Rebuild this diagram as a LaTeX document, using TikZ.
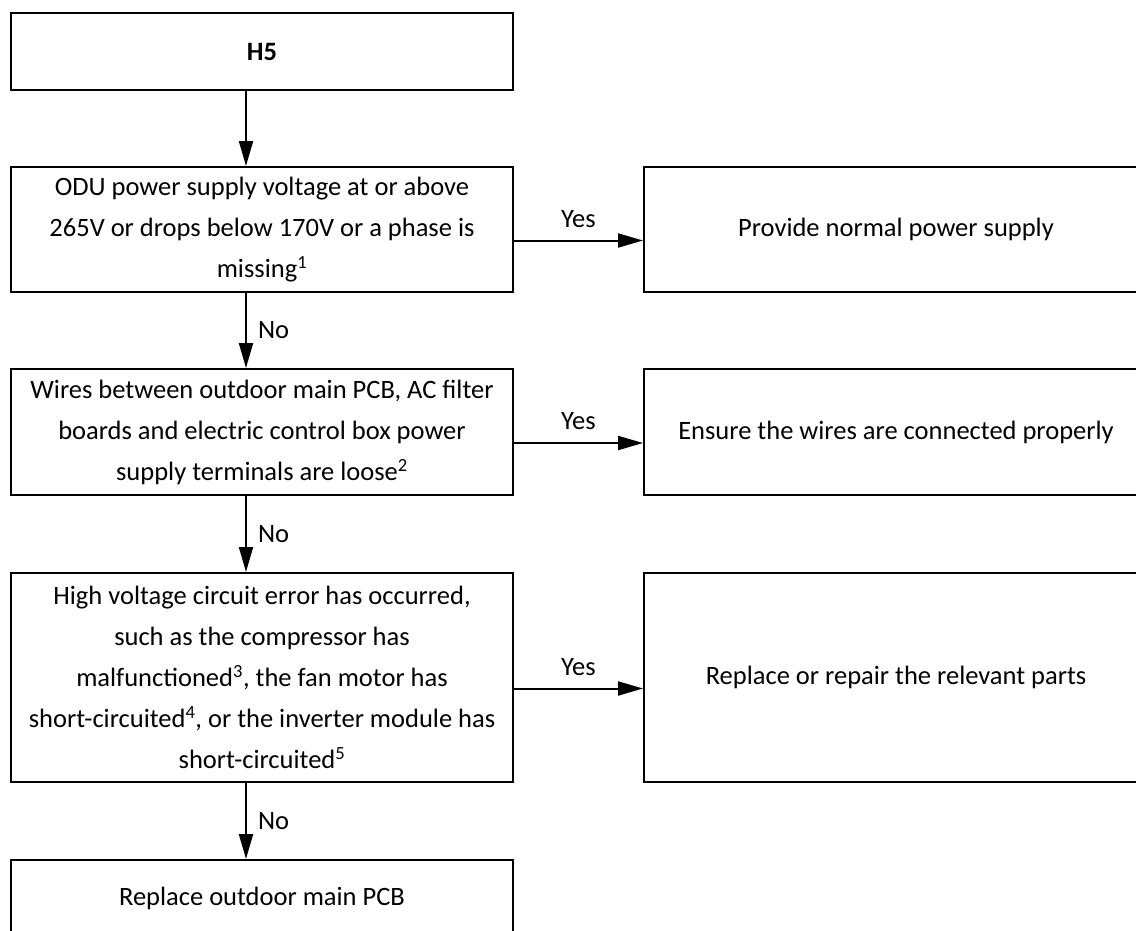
\documentclass[tikz,border=0pt]{standalone}
\usepackage{fontspec}
\setmainfont{Carlito}
\usetikzlibrary{arrows.meta}
\begin{document}
\begin{tikzpicture}[x=1pt,y=-1pt,
  box/.style={draw, line width=2pt, inner sep=0pt, align=center, anchor=north west,
              font=\fontsize{26.5}{41}\selectfont},
  arr/.style={line width=2pt, -{Triangle[length=25pt,width=14pt]}},
  lbl/.style={font=\fontsize{26.5}{30}\selectfont, inner sep=0pt}]
\useasboundingbox (0,0) rectangle (1136,930);
% left column
\node[box, minimum width=502pt, minimum height=77pt] (h5) at (10,12) {\textbf{H5}};
\node[box, minimum width=502pt, minimum height=125pt] (q1) at (10,166)
  {ODU power supply voltage at or above\\265V or drops below 170V or a phase is\\missing\textsuperscript{1}};
\node[box, minimum width=502pt, minimum height=126pt] (q2) at (10,368)
  {Wires between outdoor main PCB, AC filter\\boards and electric control box power\\supply terminals are loose\textsuperscript{2}};
\node[box, minimum width=502pt, minimum height=209pt] (q3) at (10,572)
  {High voltage circuit error has occurred,\\such as the compressor has\\malfunctioned\textsuperscript{3}, the fan motor has\\short-circuited\textsuperscript{4}, or the inverter module has\\short-circuited\textsuperscript{5}};
\node[box, minimum width=502pt, minimum height=77pt] (pcb) at (10,859) {Replace outdoor main PCB};
% right column
\node[box, minimum width=504pt, minimum height=125pt] (r1) at (643,166) {Provide normal power supply};
\node[box, minimum width=504pt, minimum height=126pt] (r2) at (643,368) {Ensure the wires are connected properly};
\node[box, minimum width=504pt, minimum height=209pt] (r3) at (643,572) {Replace or repair the relevant parts};
% vertical connectors
\draw[arr] ([xshift=236pt]h5.south west) -- ([xshift=236pt]q1.north west);
\draw[arr] ([xshift=236pt]q1.south west) -- node[lbl, right=11pt] {No} ([xshift=236pt]q2.north west);
\draw[arr] ([xshift=236pt]q2.south west) -- node[lbl, right=11pt] {No} ([xshift=236pt]q3.north west);
\draw[arr] ([xshift=236pt]q3.south west) -- node[lbl, right=11pt] {No} ([xshift=236pt]pcb.north west);
% horizontal connectors
\draw[arr] ([yshift=-11pt]q1.east) -- node[lbl, above=12pt] {Yes} ([yshift=-11pt]r1.west);
\draw[arr] ([yshift=-11pt]q2.east) -- node[lbl, above=12pt] {Yes} ([yshift=-11pt]r2.west);
\draw[arr] ([yshift=-11pt]q3.east) -- node[lbl, above=12pt] {Yes} ([yshift=-11pt]r3.west);
\end{tikzpicture}
\end{document}
